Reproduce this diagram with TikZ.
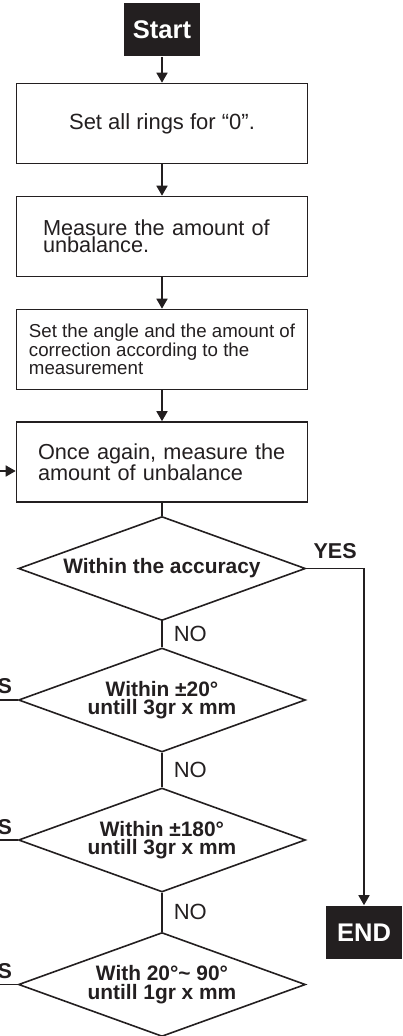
\documentclass[tikz,border=0pt]{standalone}
\usepackage{fontspec}
\setmainfont{Liberation Sans}
\usetikzlibrary{shapes.geometric,arrows.meta}
\definecolor{ink}{HTML}{231F20}
\tikzset{
  box/.style={draw, minimum width=291pt, minimum height=80pt, inner sep=0pt, align=left},
  test/.style={diamond, aspect=2.74, draw, minimum width=287pt, minimum height=104pt, inner sep=0pt, align=center, font=\bfseries\fontsize{20.9}{18.5}\selectfont},
  term/.style={fill=ink, text=white, inner sep=0pt, minimum width=76pt, minimum height=53pt, font=\bfseries\fontsize{25.5}{30}\selectfont},
  yeslab/.style={inner sep=0pt, font=\bfseries\fontsize{21.5}{24}\selectfont},
  nolab/.style={inner sep=0pt, anchor=west, xshift=11pt, font=\fontsize{22}{24}\selectfont}
}
\begin{document}
\begin{tikzpicture}[x=1pt, y=-1pt, color=ink, line width=1.6pt, >={Triangle[length=10pt,width=11pt]}]

\path[use as bounding box, clip] (0,0) rectangle (403,1036);

% Départ et fin
\node[term] (start) at (162,29.5) {Start};
\node[term] (done) at (364,932.5) {END};

% Boîtes
\node[box, font=\fontsize{22}{16}\selectfont] (zero) at (162,123.5) {Set all rings for “0”.};
\node[box, text width=238pt, font=\fontsize{21.7}{15}\selectfont] (measure) at (162,236.5) {Measure the amount of\\unbalance.};
\node[box, font=\fontsize{18.7}{18.2}\selectfont] (correct) at (162,349.5) {Set the angle and the amount of\\correction according to the\\measurement};
\node[box, text width=248pt, font=\fontsize{21.7}{15.5}\selectfont] (again) at (162,462) {Once again, measure the\\amount of unbalance};

% Losanges
\node[test] (acc) at (162,568.5) {Within the accuracy};
\node[test] (d20) at (162,700) {Within ±20°\\untill 3gr x mm};
\node[test] (d180) at (162,840) {Within ±180°\\untill 3gr x mm};
\node[test] (d90) at (162,984.5) {With 20°\textasciitilde{} 90°\\untill 1gr x mm};

% Bouts hors cadre
\coordinate (back) at (-20,471);
\coordinate (out20) at (-20,700);
\coordinate (out180) at (-20,840);
\coordinate (out90) at (-20,984.5);

% Flèches
\draw[->] (start) -- (zero);
\draw[->] (zero) -- (measure);
\draw[->] (measure) -- (correct);
\draw[->] (correct) -- (again);
\draw[->] (back) -- (back -| again.west);
\draw (again) -- (acc);

% Branches NO
\draw (acc) -- node[nolab] {NO} (d20);
\draw (d20) -- node[nolab] {NO} (d180);
\draw (d180) -- node[nolab] {NO} (d90);

% Branches YES
\draw[->] (acc.east) -| node[yeslab, pos=0.25, above=9pt] {YES} (done);
\draw (d20.west) -- node[yeslab, pos=0, anchor=south east, xshift=-5pt, yshift=5pt] {YES} (out20);
\draw (d180.west) -- node[yeslab, pos=0, anchor=south east, xshift=-5pt, yshift=5pt] {YES} (out180);
\draw (d90.west) -- node[yeslab, pos=0, anchor=south east, xshift=-5pt, yshift=5pt] {YES} (out90);
\end{tikzpicture}
\end{document}
